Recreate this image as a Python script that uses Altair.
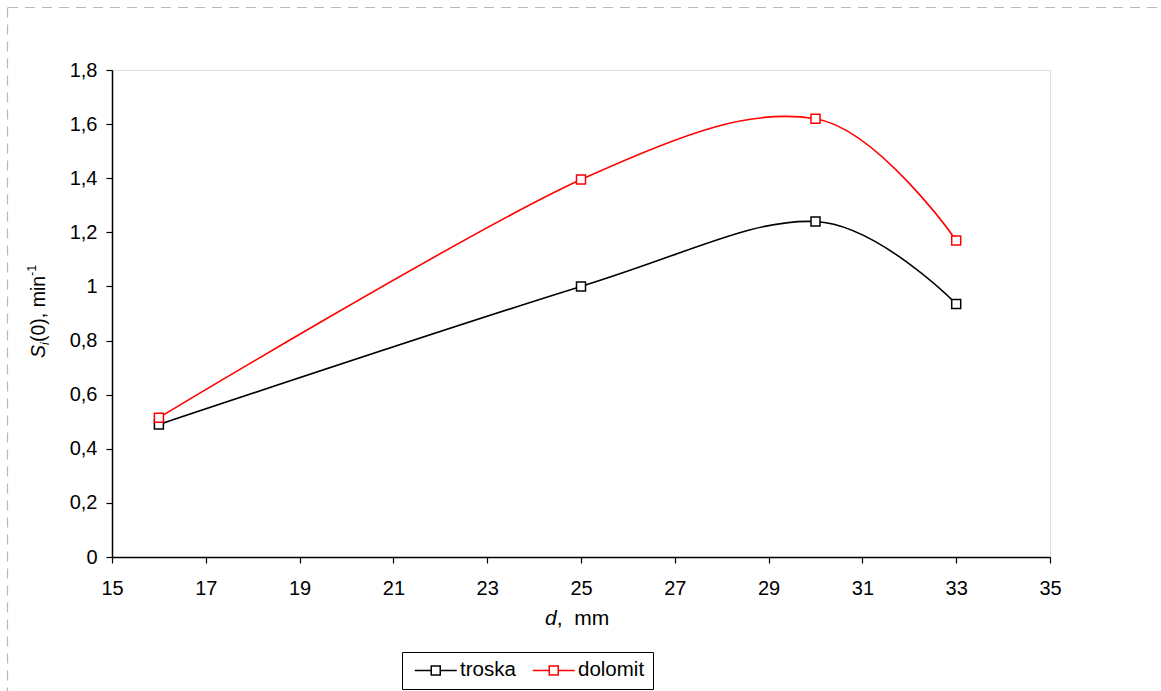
import altair as alt
import pandas as pd

# Measured grain diameter d (mm) and breakage rate S_i(0) (1/min) for two materials
d_mm = [16, 25, 30, 33]
troska = [0.49, 1.0, 1.24, 0.935]
dolomit = [0.515, 1.395, 1.62, 1.17]

series_names = ["troska", "dolomit"]
series_colors = ["#000000", "#ff0000"]

x_ticks = [15, 17, 19, 21, 23, 25, 27, 29, 31, 33, 35]
y_ticks = [0, 0.2, 0.4, 0.6, 0.8, 1.0, 1.2, 1.4, 1.6, 1.8]

# axis title fragments (mixed italic / sub- / superscript)
x_title_parts = ["d", ", \u00a0mm"]
y_title_parts = ["S", "i", "(0), min", "-1"]

FONT = "Liberation Sans"
W, H = 938, 487
PAD = {"left": 112, "top": 70, "right": 1161 - 112 - W, "bottom": 691 - 70 - H}

rows = []
for name, vals in zip(series_names, [troska, dolomit]):
    for d, v in zip(d_mm, vals):
        rows.append({"series": name, "d": d, "S": v})
df = pd.DataFrame(rows)

x_enc = alt.X(
    "d:Q",
    scale=alt.Scale(domain=[15, 35], nice=False, zero=False),
    axis=alt.Axis(values=x_ticks, title=None, grid=False, tickSize=6,
                  labelPadding=15, labelFontSize=20, labelFont=FONT,
                  labelColor="black", domainColor="black", tickColor="black",
                  domainWidth=1.5, tickWidth=1.2, labelFlush=False),
)
y_enc = alt.Y(
    "S:Q",
    scale=alt.Scale(domain=[0, 1.8], nice=False),
    axis=alt.Axis(values=y_ticks, title=None, grid=False, tickSize=6,
                  labelPadding=9, labelFontSize=20, labelFont=FONT,
                  labelColor="black", domainColor="black", tickColor="black",
                  domainWidth=1.5, tickWidth=1.2, labelFlush=False,
                  labelExpr="replace(format(datum.value, '~g'), '.', ',')"),
)

legend_symbol = "M-4.67,0L-1,0M1,0L4.67,0M-1,-1L1,-1L1,1L-1,1Z"

color_enc = alt.Color(
    "series:N",
    scale=alt.Scale(domain=series_names, range=series_colors),
    sort=series_names,
    legend=alt.Legend(
        orient="none", legendX=290, legendY=582, direction="horizontal",
        title=None, symbolType=legend_symbol, symbolSize=81,
        symbolStrokeWidth=1.5, symbolFillColor="white",
        symbolOffset=15.5, labelOffset=14, columnPadding=12,
        labelFontSize=20.5, labelFont=FONT, labelColor="black",
        strokeColor="black", fillColor="white", padding=8,
    ),
)

base = alt.Chart(df)

lines = base.mark_line(interpolate="cardinal", strokeWidth=1.6).encode(
    x=x_enc, y=y_enc, color=color_enc, detail="series:N"
)
points = base.mark_point(shape="square", size=81, fill="white", filled=False,
                         strokeWidth=1.5, opacity=1).encode(
    x=x_enc, y=y_enc, color=color_enc
)


def label(text, x, y, size=20, italic=False, angle=0, align="left"):
    return alt.Chart(pd.DataFrame({"t": [text]})).mark_text(
        font=FONT, fontSize=size, fontStyle="italic" if italic else "normal",
        angle=angle, align=align, baseline="alphabetic", color="black",
    ).encode(x=alt.value(x), y=alt.value(y), text="t:N")


# x axis title: italic d followed by the unit
x_title = label(x_title_parts[0], 444.7, 555, size=21, italic=True, align="right") + \
    label(x_title_parts[1], 444.7, 555, size=21)

# y axis title, rotated, built piece by piece from the bottom up
y_title = (
    label(y_title_parts[0], -67, 288, size=19.5, italic=True, angle=270)
    + label(y_title_parts[1], -63.5, 275, size=12.5, italic=True, angle=270)
    + label(y_title_parts[2], -67, 272, size=19.5, angle=270)
    + label(y_title_parts[3], -76, 206, size=12.5, angle=270)
)

# dashed outer frame (top and left edges)
frame_top = alt.Chart(pd.DataFrame({"k": [0]})).mark_rule(
    color="#b8b8b8", strokeDash=[10, 7], strokeWidth=1.2
).encode(x=alt.value(-104), x2=alt.value(1161 - 112), y=alt.value(-62.5))
frame_left = alt.Chart(pd.DataFrame({"k": [0]})).mark_rule(
    color="#b8b8b8", strokeDash=[10, 7], strokeWidth=1.2
).encode(x=alt.value(-104.5), y=alt.value(-62.5), y2=alt.value(691 - 70))

chart = alt.layer(
    frame_top, frame_left, lines, points, x_title, y_title
).properties(
    width=W, height=H, padding=PAD,
    autosize=alt.AutoSizeParams(type="none"),
).configure_view(
    stroke="black", strokeWidth=1.5
).configure(background="white")

chart.save("out.html", embed_options={"renderer": "svg", "actions": False})
